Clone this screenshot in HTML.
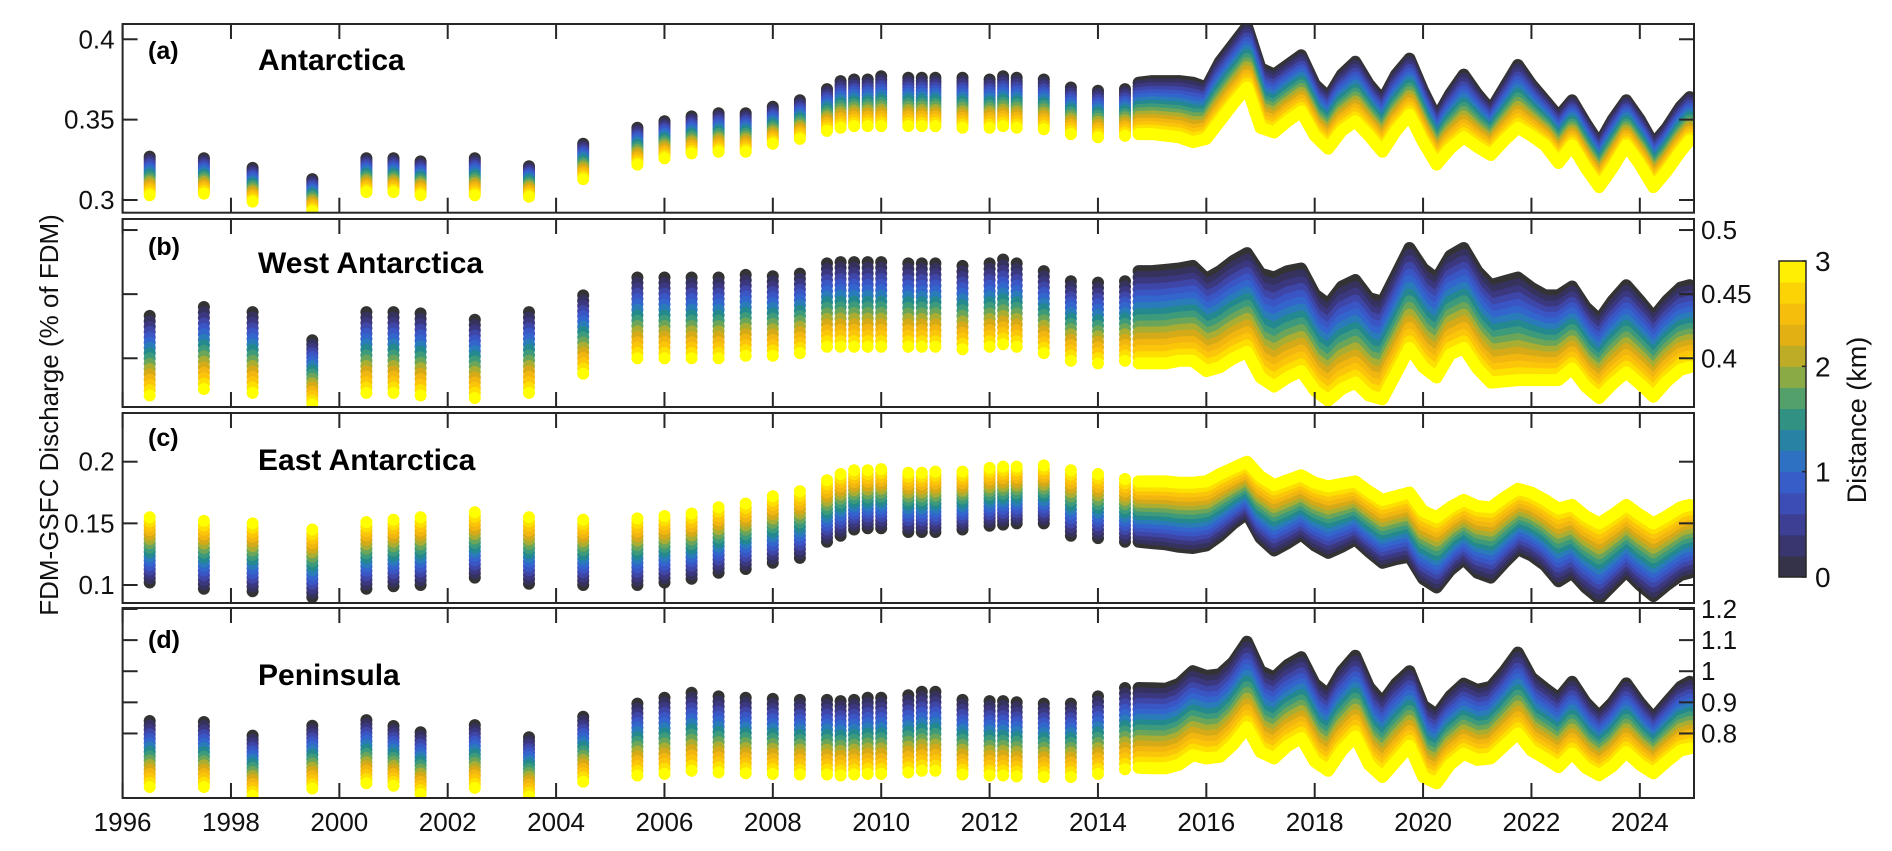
<!DOCTYPE html>
<html><head><meta charset="utf-8"><style>
html,body{margin:0;padding:0;background:#fff;}
svg{display:block;font-family:"Liberation Sans",Arial,sans-serif;}
</style></head>
<body>
<svg id="chart" width="1892" height="851" viewBox="0 0 1892 851" xmlns="http://www.w3.org/2000/svg">
<rect width="1892" height="851" fill="#fff"/>
<g id="marks"></g>
<g id="axes"></g>
<text transform="translate(58,415) rotate(-90)" text-anchor="middle" font-size="26" fill="#111">FDM-GSFC Discharge (% of FDM)</text>
<g id="cbar"></g>
<text transform="translate(1866,420) rotate(-90)" text-anchor="middle" font-size="27" fill="#111">Distance (km)</text>
</svg>
<script>
const discreteYears = [1996.5,1997.5,1998.4,1999.5,2000.5,2001.0,2001.5,2002.5,2003.5,2004.5,2005.5,2006.0,2006.5,2007.0,2007.5,2008.0,2008.5,2009.0,2009.25,2009.5,2009.75,2010.0,2010.5,2010.75,2011.0,2011.5,2012.0,2012.25,2012.5,2013.0,2013.5,2014.0,2014.5];
const contYears = [2014.75,2015.0,2015.25,2015.5,2015.75,2016.0,2016.25,2016.5,2016.75,2017.0,2017.25,2017.5,2017.75,2018.0,2018.25,2018.5,2018.75,2019.0,2019.25,2019.5,2019.75,2020.0,2020.25,2020.5,2020.75,2021.0,2021.25,2021.5,2021.75,2022.0,2022.25,2022.5,2022.75,2023.0,2023.25,2023.5,2023.75,2024.0,2024.25,2024.5,2024.75,2024.92];
const xTicks = [1996,1998,2000,2002,2004,2006,2008,2010,2012,2014,2016,2018,2020,2022,2024];
const cbarTicks = [0,1,2,3];

const aDiscD0 = [0.327,0.326,0.320,0.313,0.326,0.326,0.324,0.326,0.321,0.335,0.345,0.349,0.352,0.354,0.354,0.358,0.362,0.369,0.374,0.375,0.375,0.377,0.376,0.376,0.376,0.376,0.375,0.377,0.376,0.375,0.370,0.368,0.369];
const aDiscD3 = [0.303,0.304,0.299,0.293,0.305,0.305,0.303,0.303,0.302,0.313,0.322,0.326,0.329,0.330,0.330,0.335,0.338,0.343,0.345,0.346,0.346,0.346,0.346,0.346,0.346,0.345,0.345,0.346,0.345,0.344,0.341,0.339,0.340];
const aContD0 = [0.373,0.374,0.374,0.374,0.373,0.370,0.386,0.397,0.408,0.382,0.378,0.384,0.390,0.372,0.364,0.378,0.386,0.372,0.362,0.378,0.388,0.368,0.351,0.366,0.378,0.366,0.356,0.370,0.384,0.372,0.362,0.352,0.362,0.348,0.335,0.350,0.362,0.350,0.335,0.345,0.358,0.364];
const aContD3 = [0.341,0.341,0.340,0.339,0.336,0.338,0.349,0.360,0.370,0.345,0.342,0.349,0.355,0.340,0.332,0.343,0.349,0.340,0.330,0.343,0.353,0.336,0.322,0.332,0.339,0.333,0.328,0.337,0.345,0.340,0.334,0.323,0.334,0.320,0.308,0.320,0.334,0.322,0.308,0.318,0.330,0.337];
const aTicks = [0.3,0.35,0.4];
const aTickLabels = ["0.3","0.35","0.4"];

const bDiscD0 = [0.433,0.440,0.436,0.414,0.436,0.436,0.435,0.430,0.436,0.449,0.463,0.463,0.463,0.463,0.465,0.464,0.466,0.474,0.475,0.475,0.475,0.475,0.474,0.474,0.474,0.472,0.474,0.477,0.474,0.468,0.460,0.459,0.460];
const bDiscD3 = [0.371,0.376,0.373,0.364,0.373,0.373,0.371,0.369,0.373,0.388,0.400,0.400,0.400,0.400,0.402,0.402,0.404,0.409,0.409,0.409,0.409,0.409,0.409,0.409,0.409,0.407,0.409,0.411,0.409,0.404,0.398,0.396,0.398];
const bContD0 = [0.468,0.468,0.469,0.470,0.472,0.462,0.468,0.476,0.482,0.466,0.463,0.468,0.470,0.450,0.442,0.456,0.461,0.447,0.444,0.465,0.486,0.470,0.462,0.480,0.486,0.468,0.457,0.460,0.463,0.455,0.449,0.449,0.456,0.440,0.430,0.445,0.457,0.445,0.432,0.445,0.455,0.457];
const bContD3 = [0.396,0.396,0.396,0.398,0.398,0.390,0.393,0.400,0.405,0.385,0.378,0.385,0.390,0.375,0.367,0.376,0.381,0.371,0.368,0.388,0.408,0.393,0.385,0.403,0.408,0.392,0.381,0.382,0.383,0.383,0.383,0.383,0.392,0.378,0.369,0.380,0.389,0.380,0.370,0.382,0.391,0.393];
const bTicks = [0.4,0.45,0.5];
const bTickLabels = ["0.4","0.45","0.5"];

const cDiscD0 = [0.102,0.097,0.095,0.090,0.097,0.099,0.100,0.106,0.101,0.100,0.100,0.102,0.105,0.110,0.113,0.118,0.122,0.135,0.140,0.145,0.146,0.146,0.143,0.143,0.143,0.145,0.148,0.149,0.150,0.150,0.140,0.138,0.135];
const cDiscD3 = [0.155,0.152,0.150,0.145,0.151,0.153,0.155,0.159,0.155,0.153,0.154,0.156,0.158,0.163,0.166,0.172,0.176,0.185,0.190,0.193,0.193,0.194,0.191,0.191,0.192,0.192,0.195,0.196,0.196,0.197,0.193,0.190,0.186];
const cContD0 = [0.135,0.134,0.133,0.131,0.130,0.132,0.140,0.150,0.158,0.138,0.128,0.134,0.141,0.132,0.126,0.131,0.137,0.127,0.118,0.121,0.123,0.105,0.098,0.112,0.121,0.110,0.106,0.118,0.129,0.124,0.116,0.103,0.110,0.098,0.089,0.100,0.111,0.100,0.091,0.100,0.108,0.110];
const cContD3 = [0.184,0.184,0.184,0.183,0.183,0.184,0.190,0.195,0.200,0.188,0.181,0.185,0.189,0.183,0.180,0.182,0.184,0.176,0.169,0.172,0.175,0.160,0.155,0.163,0.169,0.164,0.163,0.171,0.178,0.175,0.169,0.162,0.165,0.156,0.150,0.157,0.165,0.157,0.150,0.156,0.163,0.165];
const cTicks = [0.1,0.15,0.2];
const cTickLabels = ["0.1","0.15","0.2"];

const dDiscD0 = [0.840,0.837,0.793,0.825,0.843,0.824,0.804,0.827,0.788,0.854,0.896,0.915,0.931,0.919,0.915,0.911,0.908,0.908,0.904,0.908,0.915,0.915,0.923,0.934,0.934,0.908,0.904,0.904,0.900,0.896,0.896,0.919,0.946];
const dDiscD3 = [0.628,0.628,0.600,0.623,0.640,0.632,0.605,0.625,0.597,0.645,0.665,0.670,0.680,0.675,0.672,0.670,0.668,0.668,0.665,0.668,0.670,0.670,0.675,0.680,0.680,0.668,0.665,0.665,0.662,0.660,0.660,0.670,0.685];
const dContD0 = [0.946,0.945,0.944,0.960,1.000,0.985,0.990,1.030,1.095,1.000,0.980,1.020,1.045,0.960,0.925,1.000,1.050,0.950,0.900,0.960,1.000,0.890,0.860,0.920,0.960,0.940,0.950,1.000,1.060,0.980,0.945,0.913,0.966,0.900,0.855,0.900,0.961,0.900,0.849,0.900,0.950,0.966];
const dContD3 = [0.690,0.688,0.688,0.700,0.730,0.720,0.725,0.765,0.820,0.740,0.720,0.760,0.785,0.710,0.680,0.745,0.790,0.700,0.660,0.710,0.760,0.660,0.640,0.700,0.735,0.715,0.720,0.760,0.800,0.745,0.720,0.692,0.736,0.690,0.666,0.695,0.740,0.700,0.672,0.710,0.745,0.752];
const dTicks = [0.8,0.9,1.0,1.1,1.2];
const dTickLabels = ["0.8","0.9","1","1.1","1.2"];

const NS="http://www.w3.org/2000/svg";
const X0=122.6, X1=1694, Y0=1996, Y1=2025;
function xs(y){return X0+(y-Y0)/(Y1-Y0)*(X1-X0);}
function mk(tag,attrs,parent){const e=document.createElementNS(NS,tag);for(const k in attrs)e.setAttribute(k,attrs[k]);parent.appendChild(e);return e;}

const cmapStops=[[0,[51,51,51]],[0.2,[54,50,94]],[0.4,[59,56,128]],[0.6,[62,70,168]],[0.8,[58,85,196]],[1.0,[51,102,204]],[1.2,[42,123,186]],[1.4,[36,137,143]],[1.6,[61,154,122]],[1.8,[106,165,90]],[2.0,[169,174,51]],[2.2,[212,170,24]],[2.4,[241,182,15]],[2.6,[251,197,10]],[2.8,[253,224,0]],[3.0,[255,255,0]]];
function cmap(d){for(let i=0;i<cmapStops.length-1;i++){const [a,ca]=cmapStops[i],[b,cb]=cmapStops[i+1];if(d<=b+1e-9){const t=(d-a)/(b-a);return 'rgb('+ca.map((v,j)=>Math.round(v+(cb[j]-v)*t)).join(',')+')';}}return 'rgb(255,255,0)';}

const panels=[
 {key:'a',name:'Antarctica',top:24,bot:212.7,vmax:0.4095,vmin:0.2921,discD0:aDiscD0,discD3:aDiscD3,contD0:aContD0,contD3:aContD3,ticks:aTicks,labels:aTickLabels,side:'left',labB:59,titB:70},
 {key:'b',name:'West Antarctica',top:219,bot:407,vmax:0.5086,vmin:0.362,discD0:bDiscD0,discD3:bDiscD3,contD0:bContD0,contD3:bContD3,ticks:bTicks,labels:bTickLabels,side:'right',labB:255,titB:273},
 {key:'c',name:'East Antarctica',top:413,bot:603,vmax:0.2395,vmin:0.0854,discD0:cDiscD0,discD3:cDiscD3,contD0:cContD0,contD3:cContD3,ticks:cTicks,labels:cTickLabels,side:'left',labB:446,titB:470},
 {key:'d',name:'Peninsula',top:608,bot:798,vmax:1.2032,vmin:0.5926,discD0:dDiscD0,discD3:dDiscD3,contD0:dContD0,contD3:dContD3,ticks:dTicks,labels:dTickLabels,side:'right',labB:648,titB:685}
];
const NL=16;
const marks=document.getElementById('marks');
const axes=document.getElementById('axes');
panels.forEach(p=>{
  const ys=v=>p.top+(p.vmax-v)/(p.vmax-p.vmin)*(p.bot-p.top);
  const cp=mk('clipPath',{id:'clip-'+p.key},marks);
  mk('rect',{x:X0,y:p.top,width:X1-X0,height:p.bot-p.top},cp);
  const g=mk('g',{'clip-path':'url(#clip-'+p.key+')'},marks);
  
  
  for(let k=0;k<NL;k++){
    const d=k*3/(NL-1), t=k/(NL-1), col=cmap(d);
    const lg=mk('g',{fill:col},g);
    
    
    discreteYears.forEach((yr,i)=>{
      const v=p.discD0[i]+(p.discD3[i]-p.discD0[i])*t;
      const c=mk('circle',{cx:xs(yr).toFixed(1),cy:ys(v).toFixed(1),r:6},lg);
      
      
    });
    const pts=contYears.map((yr,i)=>{const v=p.contD0[i]+(p.contD3[i]-p.contD0[i])*t;return xs(yr).toFixed(1)+','+ys(v).toFixed(1);}).join(' ');
    const pl=mk('polyline',{points:pts,fill:'none',stroke:col,'stroke-width':12,'stroke-linejoin':'round','stroke-linecap':'round'},g);
    
    
  }
  const ag=mk('g',{},axes);
  
  
  mk('rect',{x:X0,y:p.top,width:X1-X0,height:p.bot-p.top,fill:'none',stroke:'#262626','stroke-width':2},ag);
  xTicks.forEach(yr=>{const x=xs(yr);
    mk('line',{x1:x,x2:x,y1:p.top,y2:p.top+15,stroke:'#262626','stroke-width':2},ag);
    mk('line',{x1:x,x2:x,y1:p.bot,y2:p.bot-15,stroke:'#262626','stroke-width':2},ag);});
  p.ticks.forEach((v,i)=>{const y=ys(v);
    mk('line',{x1:X0,x2:X0+15,y1:y,y2:y,stroke:'#262626','stroke-width':2},ag);
    mk('line',{x1:X1,x2:X1-15,y1:y,y2:y,stroke:'#262626','stroke-width':2},ag);
    const tx=p.side==='left'?mk('text',{x:X0-8,y:y+9,'text-anchor':'end','font-size':26,fill:'#111'},ag):mk('text',{x:X1+7,y:y+9,'text-anchor':'start','font-size':26,fill:'#111'},ag);
    tx.textContent=p.labels[i];
    
    
  });
  const lab=mk('text',{x:148,y:p.labB,'font-size':25,'font-weight':'bold',fill:'#000'},ag);
  lab.textContent='('+p.key+')';
  
  
  const tit=mk('text',{x:258,y:p.titB,'font-size':30,'font-weight':'bold',fill:'#000'},ag);
  tit.textContent=p.name;
  
  
});
xTicks.forEach(yr=>{
  const t=mk('text',{x:xs(yr),y:831,'text-anchor':'middle','font-size':26,fill:'#111'},axes);
  t.textContent=String(yr);
  
  
});
const cb=document.getElementById('cbar');
const CBT=261,CBB=577,CBL=1779,CBR=1806;
const cbY=d=>CBB-(d/3)*(CBB-CBT);
for(let k=0;k<15;k++){
  const r=mk('rect',{x:CBL,y:cbY((k+1)*0.2),width:CBR-CBL,height:cbY(k*0.2)-cbY((k+1)*0.2)+0.5,fill:cmap(k*0.2+0.1)},cb);
  
  
}
mk('rect',{x:CBL,y:CBT,width:CBR-CBL,height:CBB-CBT,fill:'none',stroke:'#262626','stroke-width':1.5},cb);
cbarTicks.forEach(d=>{
  const y=cbY(d);
  mk('line',{x1:CBR,x2:CBR-4,y1:y,y2:y,stroke:'#262626','stroke-width':1.5},cb);
  const t=mk('text',{x:1815,y:y+10,'font-size':28,fill:'#111'},cb);
  t.textContent=String(d);
  
  
});
</script>
</body></html>
